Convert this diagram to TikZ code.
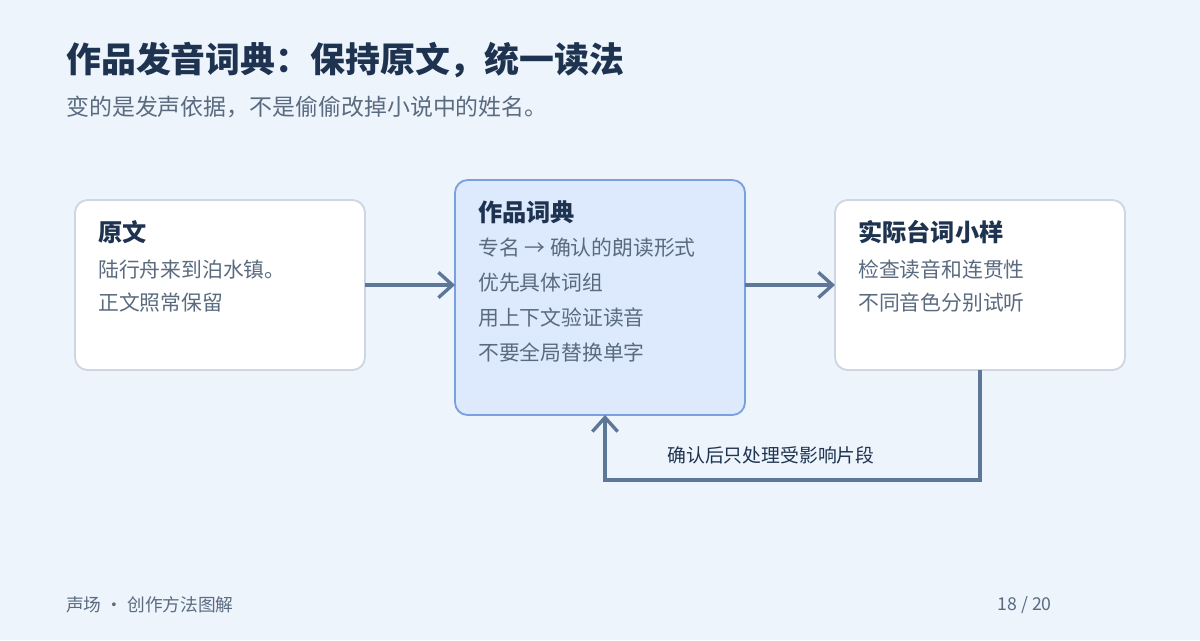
\documentclass[tikz,border=0pt]{standalone}
\usepackage{fontspec}
\setmainfont{Noto Sans CJK SC}
\usetikzlibrary{arrows.meta,positioning}
\definecolor{pagebg}{HTML}{EEF4FC}
\definecolor{titleink}{HTML}{1E3350}
\definecolor{greyink}{HTML}{5A6B80}
\definecolor{boxline}{HTML}{CDD6E2}
\definecolor{hotfill}{HTML}{DDE9FC}
\definecolor{hotline}{HTML}{7BA0DF}
\definecolor{flow}{HTML}{5E7799}
\tikzset{
  card/.style={draw=boxline, line width=1.3pt, fill=white, rounded corners=9pt},
  hotcard/.style={card, draw=hotline, fill=hotfill},
  head/.style={anchor=west, text=titleink, font=\fontsize{17.2}{20}\selectfont\bfseries},
  line/.style={anchor=west, text=greyink, font=\fontsize{14.8}{17}\selectfont},
  flowarrow/.style={draw=flow, line width=2.4pt, -{Straight Barb[length=10pt,width=18pt]}}
}
\begin{document}
\begin{tikzpicture}[x=0.025cm, y=-0.025cm]

\path [use as bounding box, fill=pagebg] (0,0) rectangle (1200,640);

% TITLE
\node [anchor=west, inner xsep=0pt, text=titleink, font=\fontsize{24.8}{28}\selectfont\bfseries] (title) at (66,60) {作品发音词典：保持原文，统一读法};
\node [anchor=west, inner xsep=0pt, text=greyink, font=\fontsize{16.3}{19}\selectfont] (subtitle) at (66,107) {变的是发声依据，不是偷偷改掉小说中的姓名。};

% CARDS
\draw [card] (75,200) rectangle (365,370);
\draw [hotcard] (455,180) rectangle (745,415);
\draw [card] (835,200) rectangle (1125,370);
\coordinate (src) at (365,285);
\coordinate (dicin) at (455,285);
\coordinate (dicout) at (745,285);
\coordinate (smp) at (835,285);
\coordinate (smpbot) at (980,370);
\coordinate (dicbot) at (605,415);

\node [head, inner xsep=0pt] (srchead) at (98,232) {原文};
\node [line, inner xsep=0pt] (src1) at (98,270) {陆行舟来到泊水镇。};
\node [line, inner xsep=0pt] (src2) at (98,303) {正文照常保留};

\node [head, inner xsep=0pt] (dichead) at (478,212) {作品词典};
\node [line, inner xsep=0pt] (dic1) at (478,248) {专名 → 确认的朗读形式};
\node [line, inner xsep=0pt] (dic2) at (478,283) {优先具体词组};
\node [line, inner xsep=0pt] (dic3) at (478,318) {用上下文验证读音};
\node [line, inner xsep=0pt] (dic4) at (478,352) {不要全局替换单字};

\node [head, inner xsep=0pt] (smphead) at (858,232) {实际台词小样};
\node [line, inner xsep=0pt] (smp1) at (858,270) {检查读音和连贯性};
\node [line, inner xsep=0pt] (smp2) at (858,303) {不同音色分别试听};

% FLOW
\draw [flowarrow] (src) -- (dicin);
\draw [flowarrow] (dicout) -- (smp);
\draw [flowarrow] (smpbot) -- (980,480) -- (605,480) -- (dicbot);
\node [text=titleink, font=\fontsize{13.4}{16}\selectfont] (back) at (771,455) {确认后只处理受影响片段};

% FOOTER
\node [anchor=west, inner xsep=0pt, text=greyink, font=\fontsize{12.6}{15}\selectfont] (foot) at (66,605) {声场 · 创作方法图解};
\node [anchor=east, inner xsep=0pt, text=greyink, font=\fontsize{12.6}{15}\selectfont] (page) at (1052,605) {18 / 20};

\end{tikzpicture}
\end{document}
